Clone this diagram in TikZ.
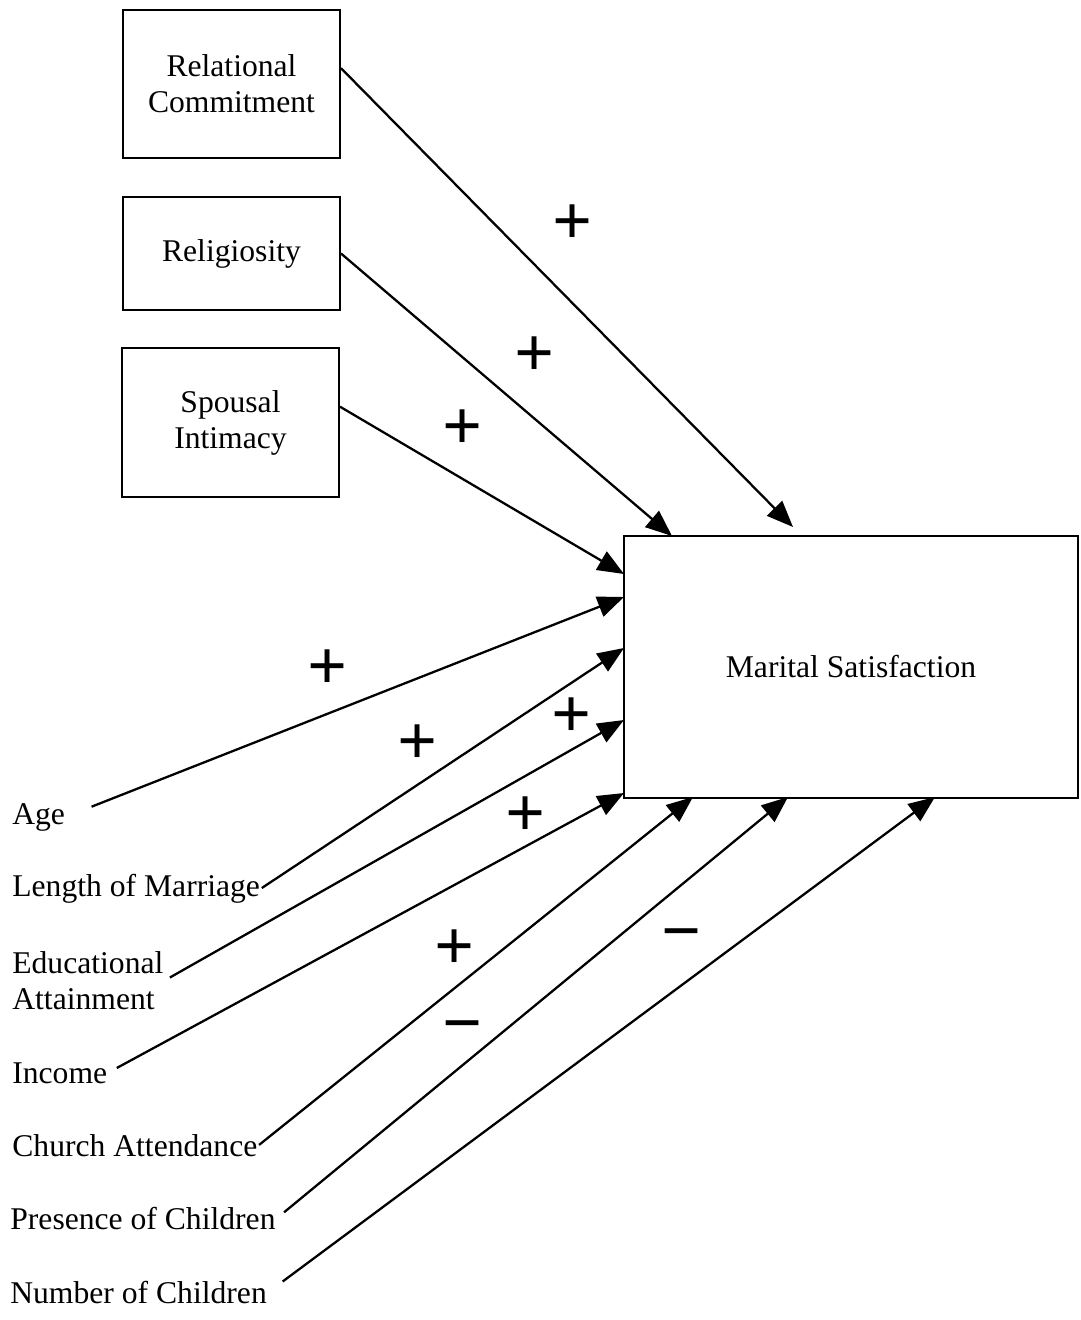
\documentclass[tikz,border=0pt]{standalone}
\usepackage{fontspec}
\setmainfont{Liberation Serif}
\usetikzlibrary{arrows.meta}

\begin{document}
\begin{tikzpicture}[x=0.02cm, y=-0.02cm, font=\fontsize{18}{20.5}\selectfont]
\tikzstyle{factor}=[rectangle, draw=black, line width=1.2pt, minimum width=4.34cm, align=center]
\tikzstyle{outcome}=[rectangle, draw=black, line width=1.2pt, minimum width=9.08cm, minimum height=5.24cm]
\tikzstyle{control}=[anchor=west, inner sep=0pt, align=left]
\tikzstyle{post}=[-{Triangle[length=15pt, width=12pt]}, line width=1.3pt]
\tikzstyle{sign}=[font=\fontsize{40}{40}\selectfont\bfseries, inner sep=0pt]
%
\useasboundingbox (0,0) rectangle (1080,1320);

\node [outcome] (ms) at (851,667) {Marital Satisfaction};
\coordinate (ms-rc) at (793,527);
\coordinate (ms-rel) at (672,536);
\coordinate (ms-si) at (624,574);
\coordinate (ms-age) at (624,597);
\coordinate (ms-lm) at (624,648);
\coordinate (ms-ea) at (624,720);
\coordinate (ms-in) at (624,793);
\coordinate (ms-ca) at (693,797);
\coordinate (ms-pc) at (788,797);
\coordinate (ms-nc) at (935,797);

\node [factor, minimum height=2.96cm] (rc) at (231.5,84) {Relational\\Commitment};
\node [factor, minimum height=2.26cm] (rel) at (231.5,253.5) {Religiosity};
\node [factor, minimum height=2.98cm] (si) at (230.5,422.5) {Spousal\\Intimacy};

\node [control] (age) at (12,817) {Age};
\node [control] (lm) at (12,889) {Length of Marriage};
\node [control] (ea) at (12,981) {Educational\\Attainment};
\node [control] (in) at (12,1073) {Income};
\node [control] (ca) at (12,1146) {Church Attendance};
\node [control] (pc) at (10,1219) {Presence of Children};
\node [control] (nc) at (10,1293) {Number of Children};

\draw [post] ([yshift=9pt]rc.east) -- (ms-rc);
\draw [post] (rel.east) -- (ms-rel);
\draw [post] ([yshift=9pt]si.east) -- (ms-si);
\draw [post, shorten <=16pt] (age.east) -- (ms-age);
\draw [post, shorten <=1pt] (lm.east) -- (ms-lm);
\draw [post, shorten <=4pt] (ea.east) -- (ms-ea);
\draw [post, shorten <=6pt] (in.east) -- (ms-in);
\draw [post, shorten <=1pt] (ca.east) -- (ms-ca);
\draw [post, shorten <=6pt] (pc.east) -- (ms-pc);
\draw [post, shorten <=11pt] (nc.east) -- (ms-nc);

\node [sign] (s-rc) at (573,225) {+};
\node [sign] (s-rel) at (535,357) {+};
\node [sign] (s-si) at (463,430) {+};
\node [sign] (s-age) at (328,670) {+};
\node [sign] (s-lm) at (418,745) {+};
\node [sign] (s-ea) at (572,718) {+};
\node [sign] (s-in) at (526,817) {+};
\node [sign] (s-ca) at (455,950) {+};
\node [sign] (s-pc) at (463,1034) {−};
\node [sign] (s-nc) at (682,942) {−};
\end{tikzpicture}
\end{document}
